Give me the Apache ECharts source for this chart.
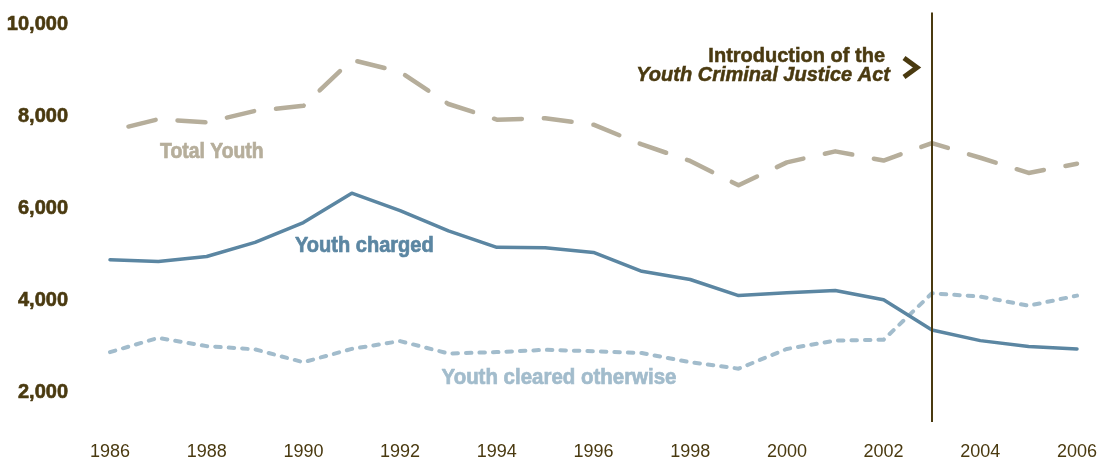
<!DOCTYPE html>
<html>
<head>
<meta charset="utf-8">
<script src="https://cdn.jsdelivr.net/npm/echarts@6/dist/echarts.min.js"></script>
<style>
html,body{margin:0;padding:0;background:#fff;}
#c{width:1110px;height:461px;}
</style>
</head>
<body>
<div id="c"></div>
<script>
var years = ['1986','1987','1988','1989','1990','1991','1992','1993','1994','1995','1996','1997','1998','1999','2000','2001','2002','2003','2004','2005','2006'];
var totalYouth = [7690,7950,7880,8130,8240,9240,8980,8280,7940,7970,7830,7400,7040,6510,7010,7250,7050,7430,7110,6780,6980];
var youthCharged = [4890,4850,4960,5270,5700,6340,5960,5520,5160,5150,5050,4640,4460,4110,4170,4220,4020,3360,3130,3000,2950];
var youthCleared = [2880,3190,3010,2940,2660,2950,3120,2850,2880,2930,2900,2860,2660,2520,2950,3130,3150,4160,4090,3890,4110];
var yTicks = [2000,4000,6000,8000,10000];
var actYear = '2003';
var actLineRange = [1360, 10270];

var FONT = "'Liberation Sans', Arial, sans-serif";
var BROWN = '#4a3a10';

function label(x, y, text, color, scaleX, size) {
  return {type: 'text', x: x, y: y, scaleX: scaleX, style: {
    text: text, fill: color, font: 'bold ' + size + 'px ' + FONT, align: 'left', verticalAlign: 'middle',
    stroke: color, lineWidth: 0.7
  }};
}

var chart = echarts.init(document.getElementById('c'), null, {renderer:'canvas'});
chart.setOption({
  animation: false,
  backgroundColor: '#ffffff',
  grid: {left: 110, right: 33, top: 11.2, bottom: 22.5, containLabel: false, outerBoundsMode: 'none'},
  xAxis: {
    type: 'category', data: years, boundaryGap: false,
    axisLine: {show: false}, axisTick: {show: false}, splitLine: {show: false},
    axisLabel: {
      interval: 1, margin: 5, color: BROWN, fontFamily: FONT, fontSize: 18
    }
  },
  yAxis: {
    type: 'value', min: 1000, max: 10300, interval: 1000,
    axisLine: {show: false}, axisTick: {show: false}, splitLine: {show: false},
    axisLabel: {
      margin: 42, color: BROWN, fontFamily: FONT, fontSize: 20, fontWeight: 'bold',
      textBorderColor: BROWN, textBorderWidth: 0.6,
      formatter: function (v) {
        return yTicks.indexOf(v) >= 0 ? v.toLocaleString('en-US') : '';
      }
    }
  },
  series: [
    {
      name: 'Total Youth', type: 'line', data: totalYouth, symbol: 'none', z: 2,
      lineStyle: {color: '#b6ae9b', width: 4.5, type: [28, 22], dashOffset: 31, cap: 'round', join: 'round'}
    },
    {
      name: 'Youth cleared otherwise', type: 'line', data: youthCleared, symbol: 'none', z: 3,
      lineStyle: {color: '#a2bccc', width: 4, type: [5.5, 8], cap: 'round', join: 'round'}
    },
    {
      name: 'Youth charged', type: 'line', data: youthCharged, symbol: 'none', z: 4,
      lineStyle: {color: '#5b86a2', width: 3.5, cap: 'round', join: 'round'},
      markLine: {
        silent: true, symbol: ['none', 'none'], label: {show: false},
        lineStyle: {color: BROWN, width: 2, type: 'solid'},
        data: [[{coord: [actYear, actLineRange[0]]}, {coord: [actYear, actLineRange[1]]}]]
      }
    }
  ],
  graphic: [
    label(160, 152, 'Total Youth', '#b6ae9b', 0.88, 22),
    label(295, 246, 'Youth charged', '#5b86a2', 0.91, 22),
    label(441.5, 377.5, 'Youth cleared otherwise', '#a2bccc', 0.93, 22),
    {type: 'text', x: 885, y: 56, style: {text: 'Introduction of the', fill: BROWN, font: 'bold 20px ' + FONT, align: 'right', verticalAlign: 'middle', stroke: BROWN, lineWidth: 0.5}},
    {type: 'text', x: 890, y: 75.5, style: {text: 'Youth Criminal Justice Act', fill: BROWN, font: 'italic bold 20px ' + FONT, align: 'right', verticalAlign: 'middle', stroke: BROWN, lineWidth: 0.5}},
    {type: 'polyline', shape: {points: [[904, 58], [917, 67.5], [904, 77]]}, style: {stroke: BROWN, lineWidth: 5, fill: null, lineJoin: 'miter'}}
  ]
});
</script>
</body>
</html>
